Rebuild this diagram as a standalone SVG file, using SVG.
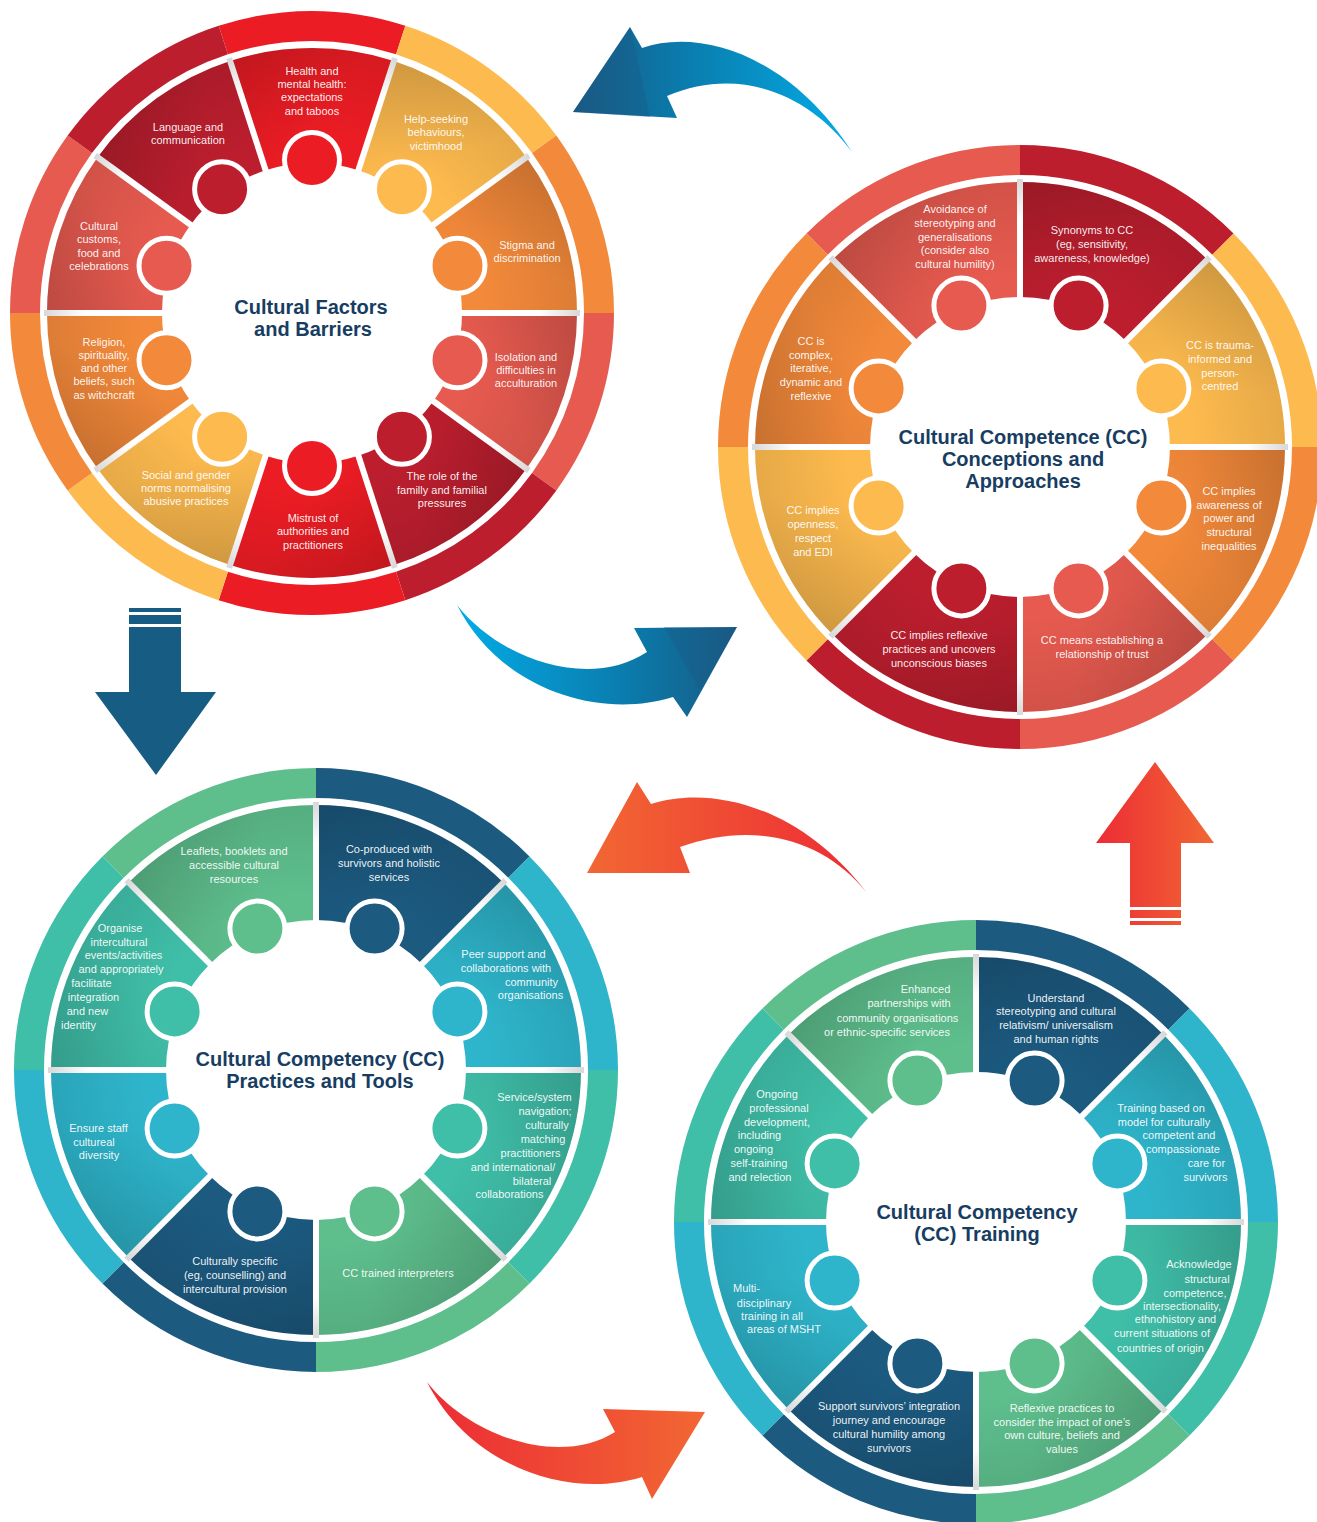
<svg xmlns="http://www.w3.org/2000/svg" width="1317" height="1522" viewBox="0 0 1317 1522">
<style>
.t{font-family:"Liberation Sans",Arial,sans-serif;font-size:11px;fill:#ffffff;fill-opacity:0.93;text-anchor:middle}
.ti{font-family:"Liberation Sans",Arial,sans-serif;font-size:20px;font-weight:bold;fill:#173D62;text-anchor:middle}
.dot{stroke:#ffffff;stroke-width:5}
.dv{stroke:url(#dvg);stroke-width:6}
</style>
<defs>
<path id="wd10" d="M142.66,-46.35 L252.03,-81.89 A265,265 0 0 1 252.03,81.89 L142.66,46.35 A150,150 0 0 0 142.66,-46.35 Z"/>
<path id="rg10" d="M258.69,-84.05 L287.22,-93.32 A302,302 0 0 1 287.22,93.32 L258.69,84.05 A272,272 0 0 0 258.69,-84.05 Z"/>
<path id="wd8" d="M138.58,-57.40 L244.83,-101.41 A265,265 0 0 1 244.83,101.41 L138.58,57.40 A150,150 0 0 0 138.58,-57.40 Z"/>
<path id="rg8" d="M251.30,-104.09 L279.01,-115.57 A302,302 0 0 1 279.01,115.57 L251.30,104.09 A272,272 0 0 0 251.30,-104.09 Z"/>
<radialGradient id="rad" gradientUnits="userSpaceOnUse" cx="0" cy="0" r="265">
<stop offset="0.65" stop-color="#000" stop-opacity="0"/>
<stop offset="1" stop-color="#000" stop-opacity="0.09"/>
</radialGradient>
<linearGradient id="side10" gradientUnits="userSpaceOnUse" x1="250" y1="-82" x2="190" y2="10">
<stop offset="0" stop-color="#000" stop-opacity="0.1"/>
<stop offset="1" stop-color="#000" stop-opacity="0"/>
</linearGradient>
<linearGradient id="side8" gradientUnits="userSpaceOnUse" x1="245" y1="-101" x2="185" y2="15">
<stop offset="0" stop-color="#000" stop-opacity="0.1"/>
<stop offset="1" stop-color="#000" stop-opacity="0"/>
</linearGradient>
<linearGradient id="dvg" gradientUnits="userSpaceOnUse" x1="150" y1="0" x2="268" y2="0">
<stop offset="0" stop-color="#ffffff"/>
<stop offset="0.65" stop-color="#ffffff"/>
<stop offset="1" stop-color="#d8d8d8"/>
</linearGradient>
<linearGradient id="gb1" gradientUnits="userSpaceOnUse" x1="573" y1="0" x2="852" y2="0">
<stop offset="0" stop-color="#1A5A84"/>
<stop offset="0.35" stop-color="#0B78A8"/>
<stop offset="1" stop-color="#03ABE6"/>
</linearGradient>
<linearGradient id="gb2" gradientUnits="userSpaceOnUse" x1="457" y1="0" x2="737" y2="0">
<stop offset="0" stop-color="#03ABE6"/>
<stop offset="0.65" stop-color="#0B78A8"/>
<stop offset="1" stop-color="#1A5A84"/>
</linearGradient>
<linearGradient id="gr1" gradientUnits="userSpaceOnUse" x1="587" y1="0" x2="867" y2="0">
<stop offset="0" stop-color="#F26733"/>
<stop offset="1" stop-color="#EC2C35"/>
</linearGradient>
<linearGradient id="gr2" gradientUnits="userSpaceOnUse" x1="427" y1="0" x2="705" y2="0">
<stop offset="0" stop-color="#EC2C35"/>
<stop offset="1" stop-color="#F26733"/>
</linearGradient>
<linearGradient id="gr3" gradientUnits="userSpaceOnUse" x1="1096" y1="0" x2="1214" y2="0">
<stop offset="0" stop-color="#EC2C35"/>
<stop offset="1" stop-color="#F26733"/>
</linearGradient>
</defs>
<rect width="1317" height="1522" fill="#ffffff"/>

<!-- ================= CONNECTORS ================= -->
<g id="connectors">
<g id="arrow-blue-top">
<path d="M642,48 C700,28 790,55 852,152 C810,95 740,65 667,96 L677,118 L573,112 L630,27 Z" fill="url(#gb1)"/>
<path d="M573,112 L630,27 L650,117 Z" fill="#1A5A84" fill-opacity="0.35"/>
</g>
<g id="arrow-blue-mid">
<path d="M457,605 C500,660 590,690 647,652 L634,628 L737,627 L687,717 L673,697 C600,720 500,690 457,605 Z" fill="url(#gb2)"/>
<path d="M664,627 L737,627 L700,690 Z" fill="#1A5A84" fill-opacity="0.35"/>
</g>
<g id="arrow-blue-down" fill="#175C83">
<rect x="129" y="608" width="52" height="4"/>
<rect x="129" y="615" width="52" height="9"/>
<path d="M129,627 L181,627 L181,692 L216,692 L156,775 L95,692 L129,692 Z"/>
</g>
<g id="arrow-red-mid">
<path d="M651,804 C710,785 800,805 867,893 C825,840 755,820 680,847 L690,873 L587,873 L637,782 Z" fill="url(#gr1)"/>
</g>
<g id="arrow-red-up" fill="url(#gr3)">
<path d="M1155,762 L1214,843 L1181,843 L1181,907 L1130,907 L1130,843 L1096,843 Z"/>
<rect x="1130" y="910" width="51" height="8"/>
<rect x="1130" y="921" width="51" height="4"/>
</g>
<g id="arrow-red-bottom">
<path d="M427,1382 C470,1437 560,1467 615,1432 L603,1409 L705,1412 L652,1499 L642,1477 C570,1500 470,1467 427,1382 Z" fill="url(#gr2)"/>
</g>
</g>

<!-- ================= WHEEL 1 ================= -->
<g id="wheel1">
<g id="w1-ring" transform="translate(312,313)">
<use href="#rg10" transform="rotate(-90)" fill="#EC1C24"/>
<use href="#rg10" transform="rotate(-54)" fill="#FDBA4E"/>
<use href="#rg10" transform="rotate(-18)" fill="#F3893A"/>
<use href="#rg10" transform="rotate(18)" fill="#E65A4F"/>
<use href="#rg10" transform="rotate(54)" fill="#BC1E2E"/>
<use href="#rg10" transform="rotate(90)" fill="#EC1C24"/>
<use href="#rg10" transform="rotate(126)" fill="#FDBA4E"/>
<use href="#rg10" transform="rotate(162)" fill="#F3893A"/>
<use href="#rg10" transform="rotate(198)" fill="#E65A4F"/>
<use href="#rg10" transform="rotate(234)" fill="#BC1E2E"/>
</g>
<g id="w1-health">
<g transform="translate(312,313) rotate(-90)"><use href="#wd10" fill="#EC1C24"/><use href="#wd10" fill="url(#rad)"/><use href="#wd10" fill="url(#side10)"/></g>
<text class="t"><tspan x="312" y="75">Health and</tspan><tspan x="312" y="88">mental health:</tspan><tspan x="312" y="101">expectations</tspan><tspan x="312" y="115">and taboos</tspan></text>
</g>
<g id="w1-help">
<g transform="translate(312,313) rotate(-54)"><use href="#wd10" fill="#FDBA4E"/><use href="#wd10" fill="url(#rad)"/><use href="#wd10" fill="url(#side10)"/></g>
<text class="t"><tspan x="436" y="123">Help-seeking</tspan><tspan x="436" y="136">behaviours,</tspan><tspan x="436" y="150">victimhood</tspan></text>
</g>
<g id="w1-stigma">
<g transform="translate(312,313) rotate(-18)"><use href="#wd10" fill="#F3893A"/><use href="#wd10" fill="url(#rad)"/><use href="#wd10" fill="url(#side10)"/></g>
<text class="t"><tspan x="527" y="249">Stigma and</tspan><tspan x="527" y="262">discrimination</tspan></text>
</g>
<g id="w1-isolation">
<g transform="translate(312,313) rotate(18)"><use href="#wd10" fill="#E65A4F"/><use href="#wd10" fill="url(#rad)"/><use href="#wd10" fill="url(#side10)"/></g>
<text class="t"><tspan x="526" y="361">Isolation and</tspan><tspan x="526" y="374">difficulties in</tspan><tspan x="526" y="387">acculturation</tspan></text>
</g>
<g id="w1-family">
<g transform="translate(312,313) rotate(54)"><use href="#wd10" fill="#BC1E2E"/><use href="#wd10" fill="url(#rad)"/><use href="#wd10" fill="url(#side10)"/></g>
<text class="t"><tspan x="442" y="480">The role of the</tspan><tspan x="442" y="494">familly and familial</tspan><tspan x="442" y="507">pressures</tspan></text>
</g>
<g id="w1-mistrust">
<g transform="translate(312,313) rotate(90)"><use href="#wd10" fill="#EC1C24"/><use href="#wd10" fill="url(#rad)"/><use href="#wd10" fill="url(#side10)"/></g>
<text class="t"><tspan x="313" y="522">Mistrust of</tspan><tspan x="313" y="535">authorities and</tspan><tspan x="313" y="549">practitioners</tspan></text>
</g>
<g id="w1-social">
<g transform="translate(312,313) rotate(126)"><use href="#wd10" fill="#FDBA4E"/><use href="#wd10" fill="url(#rad)"/><use href="#wd10" fill="url(#side10)"/></g>
<text class="t"><tspan x="186" y="479">Social and gender</tspan><tspan x="186" y="492">norms normalising</tspan><tspan x="186" y="505">abusive practices</tspan></text>
</g>
<g id="w1-religion">
<g transform="translate(312,313) rotate(162)"><use href="#wd10" fill="#F3893A"/><use href="#wd10" fill="url(#rad)"/><use href="#wd10" fill="url(#side10)"/></g>
<text class="t"><tspan x="104" y="346">Religion,</tspan><tspan x="104" y="359">spirituality,</tspan><tspan x="104" y="372">and other</tspan><tspan x="104" y="385">beliefs, such</tspan><tspan x="104" y="399">as witchcraft</tspan></text>
</g>
<g id="w1-customs">
<g transform="translate(312,313) rotate(198)"><use href="#wd10" fill="#E65A4F"/><use href="#wd10" fill="url(#rad)"/><use href="#wd10" fill="url(#side10)"/></g>
<text class="t"><tspan x="99" y="230">Cultural</tspan><tspan x="99" y="243">customs,</tspan><tspan x="99" y="257">food and</tspan><tspan x="99" y="270">celebrations</tspan></text>
</g>
<g id="w1-language">
<g transform="translate(312,313) rotate(234)"><use href="#wd10" fill="#BC1E2E"/><use href="#wd10" fill="url(#rad)"/><use href="#wd10" fill="url(#side10)"/></g>
<text class="t"><tspan x="188" y="131">Language and</tspan><tspan x="188" y="144">communication</tspan></text>
</g>
<g id="w1-dividers" transform="translate(312,313)">
<line class="dv" x1="148" y1="0" x2="268" y2="0" transform="rotate(-108)"/>
<line class="dv" x1="148" y1="0" x2="268" y2="0" transform="rotate(-72)"/>
<line class="dv" x1="148" y1="0" x2="268" y2="0" transform="rotate(-36)"/>
<line class="dv" x1="148" y1="0" x2="268" y2="0" transform="rotate(0)"/>
<line class="dv" x1="148" y1="0" x2="268" y2="0" transform="rotate(36)"/>
<line class="dv" x1="148" y1="0" x2="268" y2="0" transform="rotate(72)"/>
<line class="dv" x1="148" y1="0" x2="268" y2="0" transform="rotate(108)"/>
<line class="dv" x1="148" y1="0" x2="268" y2="0" transform="rotate(144)"/>
<line class="dv" x1="148" y1="0" x2="268" y2="0" transform="rotate(180)"/>
<line class="dv" x1="148" y1="0" x2="268" y2="0" transform="rotate(216)"/>
</g>
<g id="w1-dots">
<circle class="dot" cx="312" cy="160" r="27.5" fill="#EC1C24"/>
<circle class="dot" cx="401.9" cy="189.2" r="27.5" fill="#FDBA4E"/>
<circle class="dot" cx="457.5" cy="265.7" r="27.5" fill="#F3893A"/>
<circle class="dot" cx="457.5" cy="360.3" r="27.5" fill="#E65A4F"/>
<circle class="dot" cx="401.9" cy="436.8" r="27.5" fill="#BC1E2E"/>
<circle class="dot" cx="312" cy="466" r="27.5" fill="#EC1C24"/>
<circle class="dot" cx="222.1" cy="436.8" r="27.5" fill="#FDBA4E"/>
<circle class="dot" cx="166.5" cy="360.3" r="27.5" fill="#F3893A"/>
<circle class="dot" cx="166.5" cy="265.7" r="27.5" fill="#E65A4F"/>
<circle class="dot" cx="222.1" cy="189.2" r="27.5" fill="#BC1E2E"/>
</g>
<g id="w1-title">
<text class="ti"><tspan x="311" y="314">Cultural Factors</tspan><tspan x="313" y="336">and Barriers</tspan></text>
</g>
</g>

<!-- ================= WHEEL 2 ================= -->
<g id="wheel2">
<g id="w2-ring" transform="translate(1020,447)">
<use href="#rg8" transform="rotate(-112.5)" fill="#E65A4F"/>
<use href="#rg8" transform="rotate(-67.5)" fill="#BC1E2E"/>
<use href="#rg8" transform="rotate(-22.5)" fill="#FDBA4E"/>
<use href="#rg8" transform="rotate(22.5)" fill="#F3893A"/>
<use href="#rg8" transform="rotate(67.5)" fill="#E65A4F"/>
<use href="#rg8" transform="rotate(112.5)" fill="#BC1E2E"/>
<use href="#rg8" transform="rotate(157.5)" fill="#FDBA4E"/>
<use href="#rg8" transform="rotate(202.5)" fill="#F3893A"/>
</g>
<g id="w2-avoidance">
<g transform="translate(1020,447) rotate(-112.5)"><use href="#wd8" fill="#E65A4F"/><use href="#wd8" fill="url(#rad)"/><use href="#wd8" fill="url(#side8)"/></g>
<text class="t"><tspan x="955" y="213">Avoidance of</tspan><tspan x="955" y="227">stereotyping and</tspan><tspan x="955" y="241">generalisations</tspan><tspan x="955" y="254">(consider also</tspan><tspan x="955" y="268">cultural humility)</tspan></text>
</g>
<g id="w2-synonyms">
<g transform="translate(1020,447) rotate(-67.5)"><use href="#wd8" fill="#BC1E2E"/><use href="#wd8" fill="url(#rad)"/><use href="#wd8" fill="url(#side8)"/></g>
<text class="t"><tspan x="1092" y="234">Synonyms to CC</tspan><tspan x="1092" y="248">(eg, sensitivity,</tspan><tspan x="1092" y="262">awareness, knowledge)</tspan></text>
</g>
<g id="w2-trauma">
<g transform="translate(1020,447) rotate(-22.5)"><use href="#wd8" fill="#FDBA4E"/><use href="#wd8" fill="url(#rad)"/><use href="#wd8" fill="url(#side8)"/></g>
<text class="t"><tspan x="1220" y="349">CC is trauma-</tspan><tspan x="1220" y="363">informed and</tspan><tspan x="1220" y="377">person-</tspan><tspan x="1220" y="390">centred</tspan></text>
</g>
<g id="w2-awareness">
<g transform="translate(1020,447) rotate(22.5)"><use href="#wd8" fill="#F3893A"/><use href="#wd8" fill="url(#rad)"/><use href="#wd8" fill="url(#side8)"/></g>
<text class="t"><tspan x="1229" y="495">CC implies</tspan><tspan x="1229" y="509">awareness of</tspan><tspan x="1229" y="522">power and</tspan><tspan x="1229" y="536">structural</tspan><tspan x="1229" y="550">inequalities</tspan></text>
</g>
<g id="w2-trust">
<g transform="translate(1020,447) rotate(67.5)"><use href="#wd8" fill="#E65A4F"/><use href="#wd8" fill="url(#rad)"/><use href="#wd8" fill="url(#side8)"/></g>
<text class="t"><tspan x="1102" y="644">CC means establishing a</tspan><tspan x="1102" y="658">relationship of trust</tspan></text>
</g>
<g id="w2-reflexive">
<g transform="translate(1020,447) rotate(112.5)"><use href="#wd8" fill="#BC1E2E"/><use href="#wd8" fill="url(#rad)"/><use href="#wd8" fill="url(#side8)"/></g>
<text class="t"><tspan x="939" y="639">CC implies reflexive</tspan><tspan x="939" y="653">practices and uncovers</tspan><tspan x="939" y="667">unconscious biases</tspan></text>
</g>
<g id="w2-openness">
<g transform="translate(1020,447) rotate(157.5)"><use href="#wd8" fill="#FDBA4E"/><use href="#wd8" fill="url(#rad)"/><use href="#wd8" fill="url(#side8)"/></g>
<text class="t"><tspan x="813" y="514">CC implies</tspan><tspan x="813" y="528">openness,</tspan><tspan x="813" y="542">respect</tspan><tspan x="813" y="556">and EDI</tspan></text>
</g>
<g id="w2-complex">
<g transform="translate(1020,447) rotate(202.5)"><use href="#wd8" fill="#F3893A"/><use href="#wd8" fill="url(#rad)"/><use href="#wd8" fill="url(#side8)"/></g>
<text class="t"><tspan x="811" y="345">CC is</tspan><tspan x="811" y="359">complex,</tspan><tspan x="811" y="372">iterative,</tspan><tspan x="811" y="386">dynamic and</tspan><tspan x="811" y="400">reflexive</tspan></text>
</g>
<g id="w2-dividers" transform="translate(1020,447)">
<line class="dv" x1="148" y1="0" x2="268" y2="0" transform="rotate(-135)"/>
<line class="dv" x1="148" y1="0" x2="268" y2="0" transform="rotate(-90)"/>
<line class="dv" x1="148" y1="0" x2="268" y2="0" transform="rotate(-45)"/>
<line class="dv" x1="148" y1="0" x2="268" y2="0" transform="rotate(0)"/>
<line class="dv" x1="148" y1="0" x2="268" y2="0" transform="rotate(45)"/>
<line class="dv" x1="148" y1="0" x2="268" y2="0" transform="rotate(90)"/>
<line class="dv" x1="148" y1="0" x2="268" y2="0" transform="rotate(135)"/>
<line class="dv" x1="148" y1="0" x2="268" y2="0" transform="rotate(180)"/>
</g>
<g id="w2-dots">
<circle class="dot" cx="961.4" cy="305.6" r="27.5" fill="#E65A4F"/>
<circle class="dot" cx="1078.6" cy="305.6" r="27.5" fill="#BC1E2E"/>
<circle class="dot" cx="1161.4" cy="388.4" r="27.5" fill="#FDBA4E"/>
<circle class="dot" cx="1161.4" cy="505.6" r="27.5" fill="#F3893A"/>
<circle class="dot" cx="1078.6" cy="588.4" r="27.5" fill="#E65A4F"/>
<circle class="dot" cx="961.4" cy="588.4" r="27.5" fill="#BC1E2E"/>
<circle class="dot" cx="878.6" cy="505.6" r="27.5" fill="#FDBA4E"/>
<circle class="dot" cx="878.6" cy="388.4" r="27.5" fill="#F3893A"/>
</g>
<g id="w2-title">
<text class="ti"><tspan x="1023" y="444">Cultural Competence (CC)</tspan><tspan x="1023" y="466">Conceptions and</tspan><tspan x="1023" y="488">Approaches</tspan></text>
</g>
</g>

<!-- ================= WHEEL 3 ================= -->
<g id="wheel3">
<g id="w3-ring" transform="translate(316,1070)">
<use href="#rg8" transform="rotate(-112.5)" fill="#5EBF8D"/>
<use href="#rg8" transform="rotate(-67.5)" fill="#1C5A80"/>
<use href="#rg8" transform="rotate(-22.5)" fill="#2EB5CB"/>
<use href="#rg8" transform="rotate(22.5)" fill="#3FBEA8"/>
<use href="#rg8" transform="rotate(67.5)" fill="#5EBF8D"/>
<use href="#rg8" transform="rotate(112.5)" fill="#1C5A80"/>
<use href="#rg8" transform="rotate(157.5)" fill="#2EB5CB"/>
<use href="#rg8" transform="rotate(202.5)" fill="#3FBEA8"/>
</g>
<g id="w3-leaflets">
<g transform="translate(316,1070) rotate(-112.5)"><use href="#wd8" fill="#5EBF8D"/><use href="#wd8" fill="url(#rad)"/><use href="#wd8" fill="url(#side8)"/></g>
<text class="t"><tspan x="234" y="855">Leaflets, booklets and</tspan><tspan x="234" y="869">accessible cultural</tspan><tspan x="234" y="883">resources</tspan></text>
</g>
<g id="w3-coproduced">
<g transform="translate(316,1070) rotate(-67.5)"><use href="#wd8" fill="#1C5A80"/><use href="#wd8" fill="url(#rad)"/><use href="#wd8" fill="url(#side8)"/></g>
<text class="t"><tspan x="389" y="853">Co-produced with</tspan><tspan x="389" y="867">survivors and holistic</tspan><tspan x="389" y="881">services</tspan></text>
</g>
<g id="w3-peer">
<g transform="translate(316,1070) rotate(-22.5)"><use href="#wd8" fill="#2EB5CB"/><use href="#wd8" fill="url(#rad)"/><use href="#wd8" fill="url(#side8)"/></g>
<text class="t"><tspan x="503.5" y="958">Peer support and</tspan><tspan x="506" y="972">collaborations with</tspan><tspan x="531.5" y="986">community</tspan><tspan x="530.5" y="999">organisations</tspan></text>
</g>
<g id="w3-service">
<g transform="translate(316,1070) rotate(22.5)"><use href="#wd8" fill="#3FBEA8"/><use href="#wd8" fill="url(#rad)"/><use href="#wd8" fill="url(#side8)"/></g>
<text class="t"><tspan x="534.5" y="1101">Service/system</tspan><tspan x="545" y="1115">navigation;</tspan><tspan x="547" y="1129">culturally</tspan><tspan x="543" y="1143">matching</tspan><tspan x="530.5" y="1157">practitioners</tspan><tspan x="513" y="1171">and international/</tspan><tspan x="532" y="1185">bilateral</tspan><tspan x="509.5" y="1198">collaborations</tspan></text>
</g>
<g id="w3-interpreters">
<g transform="translate(316,1070) rotate(67.5)"><use href="#wd8" fill="#5EBF8D"/><use href="#wd8" fill="url(#rad)"/><use href="#wd8" fill="url(#side8)"/></g>
<text class="t"><tspan x="398" y="1277">CC trained interpreters</tspan></text>
</g>
<g id="w3-specific">
<g transform="translate(316,1070) rotate(112.5)"><use href="#wd8" fill="#1C5A80"/><use href="#wd8" fill="url(#rad)"/><use href="#wd8" fill="url(#side8)"/></g>
<text class="t"><tspan x="235" y="1265">Culturally specific</tspan><tspan x="235" y="1279">(eg, counselling) and</tspan><tspan x="235" y="1293">intercultural provision</tspan></text>
</g>
<g id="w3-staff">
<g transform="translate(316,1070) rotate(157.5)"><use href="#wd8" fill="#2EB5CB"/><use href="#wd8" fill="url(#rad)"/><use href="#wd8" fill="url(#side8)"/></g>
<text class="t"><tspan x="98.5" y="1132">Ensure staff</tspan><tspan x="94" y="1146">cultureal</tspan><tspan x="99" y="1159">diversity</tspan></text>
</g>
<g id="w3-organise">
<g transform="translate(316,1070) rotate(202.5)"><use href="#wd8" fill="#3FBEA8"/><use href="#wd8" fill="url(#rad)"/><use href="#wd8" fill="url(#side8)"/></g>
<text class="t"><tspan x="120" y="932">Organise</tspan><tspan x="119" y="946">intercultural</tspan><tspan x="123.5" y="959">events/activities</tspan><tspan x="121" y="973">and appropriately</tspan><tspan x="91.5" y="987">facilitate</tspan><tspan x="93.5" y="1001">integration</tspan><tspan x="87.5" y="1015">and new</tspan><tspan x="78.5" y="1029">identity</tspan></text>
</g>
<g id="w3-dividers" transform="translate(316,1070)">
<line class="dv" x1="148" y1="0" x2="268" y2="0" transform="rotate(-135)"/>
<line class="dv" x1="148" y1="0" x2="268" y2="0" transform="rotate(-90)"/>
<line class="dv" x1="148" y1="0" x2="268" y2="0" transform="rotate(-45)"/>
<line class="dv" x1="148" y1="0" x2="268" y2="0" transform="rotate(0)"/>
<line class="dv" x1="148" y1="0" x2="268" y2="0" transform="rotate(45)"/>
<line class="dv" x1="148" y1="0" x2="268" y2="0" transform="rotate(90)"/>
<line class="dv" x1="148" y1="0" x2="268" y2="0" transform="rotate(135)"/>
<line class="dv" x1="148" y1="0" x2="268" y2="0" transform="rotate(180)"/>
</g>
<g id="w3-dots">
<circle class="dot" cx="257.4" cy="928.6" r="27.5" fill="#5EBF8D"/>
<circle class="dot" cx="374.6" cy="928.6" r="27.5" fill="#1C5A80"/>
<circle class="dot" cx="457.4" cy="1011.4" r="27.5" fill="#2EB5CB"/>
<circle class="dot" cx="457.4" cy="1128.6" r="27.5" fill="#3FBEA8"/>
<circle class="dot" cx="374.6" cy="1211.4" r="27.5" fill="#5EBF8D"/>
<circle class="dot" cx="257.4" cy="1211.4" r="27.5" fill="#1C5A80"/>
<circle class="dot" cx="174.6" cy="1128.6" r="27.5" fill="#2EB5CB"/>
<circle class="dot" cx="174.6" cy="1011.4" r="27.5" fill="#3FBEA8"/>
</g>
<g id="w3-title">
<text class="ti"><tspan x="320" y="1066">Cultural Competency (CC)</tspan><tspan x="320" y="1088">Practices and Tools</tspan></text>
</g>
</g>

<!-- ================= WHEEL 4 ================= -->
<g id="wheel4">
<g id="w4-ring" transform="translate(976,1222)">
<use href="#rg8" transform="rotate(-112.5)" fill="#5EBF8D"/>
<use href="#rg8" transform="rotate(-67.5)" fill="#1C5A80"/>
<use href="#rg8" transform="rotate(-22.5)" fill="#2EB5CB"/>
<use href="#rg8" transform="rotate(22.5)" fill="#3FBEA8"/>
<use href="#rg8" transform="rotate(67.5)" fill="#5EBF8D"/>
<use href="#rg8" transform="rotate(112.5)" fill="#1C5A80"/>
<use href="#rg8" transform="rotate(157.5)" fill="#2EB5CB"/>
<use href="#rg8" transform="rotate(202.5)" fill="#3FBEA8"/>
</g>
<g id="w4-partnerships">
<g transform="translate(976,1222) rotate(-112.5)"><use href="#wd8" fill="#5EBF8D"/><use href="#wd8" fill="url(#rad)"/><use href="#wd8" fill="url(#side8)"/></g>
<text class="t"><tspan x="925.5" y="993">Enhanced</tspan><tspan x="909" y="1007">partnerships with</tspan><tspan x="897.5" y="1022">community organisations</tspan><tspan x="887" y="1036">or ethnic-specific services</tspan></text>
</g>
<g id="w4-understand">
<g transform="translate(976,1222) rotate(-67.5)"><use href="#wd8" fill="#1C5A80"/><use href="#wd8" fill="url(#rad)"/><use href="#wd8" fill="url(#side8)"/></g>
<text class="t"><tspan x="1056" y="1002">Understand</tspan><tspan x="1056" y="1015">stereotyping and cultural</tspan><tspan x="1056" y="1029">relativism/ universalism</tspan><tspan x="1056" y="1043">and human rights</tspan></text>
</g>
<g id="w4-training">
<g transform="translate(976,1222) rotate(-22.5)"><use href="#wd8" fill="#2EB5CB"/><use href="#wd8" fill="url(#rad)"/><use href="#wd8" fill="url(#side8)"/></g>
<text class="t"><tspan x="1161" y="1112">Training based on</tspan><tspan x="1164" y="1126">model for culturally</tspan><tspan x="1179" y="1139">competent and</tspan><tspan x="1183" y="1153">compassionate</tspan><tspan x="1206.5" y="1167">care for</tspan><tspan x="1205.5" y="1181">survivors</tspan></text>
</g>
<g id="w4-acknowledge">
<g transform="translate(976,1222) rotate(22.5)"><use href="#wd8" fill="#3FBEA8"/><use href="#wd8" fill="url(#rad)"/><use href="#wd8" fill="url(#side8)"/></g>
<text class="t"><tspan x="1199" y="1268">Acknowledge</tspan><tspan x="1207" y="1283">structural</tspan><tspan x="1195" y="1297">competence,</tspan><tspan x="1182" y="1310">intersectionality,</tspan><tspan x="1175.5" y="1323">ethnohistory and</tspan><tspan x="1162" y="1337">current situations of</tspan><tspan x="1160.5" y="1352">countries of origin</tspan></text>
</g>
<g id="w4-reflexive">
<g transform="translate(976,1222) rotate(67.5)"><use href="#wd8" fill="#5EBF8D"/><use href="#wd8" fill="url(#rad)"/><use href="#wd8" fill="url(#side8)"/></g>
<text class="t"><tspan x="1062" y="1412">Reflexive practices to</tspan><tspan x="1062" y="1426">consider the impact of one’s</tspan><tspan x="1062" y="1439">own culture, beliefs and</tspan><tspan x="1062" y="1453">values</tspan></text>
</g>
<g id="w4-support">
<g transform="translate(976,1222) rotate(112.5)"><use href="#wd8" fill="#1C5A80"/><use href="#wd8" fill="url(#rad)"/><use href="#wd8" fill="url(#side8)"/></g>
<text class="t"><tspan x="889" y="1410">Support survivors’ integration</tspan><tspan x="889" y="1424">journey and encourage</tspan><tspan x="889" y="1438">cultural humility among</tspan><tspan x="889" y="1452">survivors</tspan></text>
</g>
<g id="w4-multi">
<g transform="translate(976,1222) rotate(157.5)"><use href="#wd8" fill="#2EB5CB"/><use href="#wd8" fill="url(#rad)"/><use href="#wd8" fill="url(#side8)"/></g>
<text class="t"><tspan x="746.5" y="1292">Multi-</tspan><tspan x="764" y="1307">disciplinary</tspan><tspan x="772" y="1320">training in all</tspan><tspan x="784" y="1333">areas of MSHT</tspan></text>
</g>
<g id="w4-ongoing">
<g transform="translate(976,1222) rotate(202.5)"><use href="#wd8" fill="#3FBEA8"/><use href="#wd8" fill="url(#rad)"/><use href="#wd8" fill="url(#side8)"/></g>
<text class="t"><tspan x="777" y="1098">Ongoing</tspan><tspan x="779" y="1112">professional</tspan><tspan x="777" y="1126">development,</tspan><tspan x="759.5" y="1139">including</tspan><tspan x="753.5" y="1153">ongoing</tspan><tspan x="759" y="1167">self-training</tspan><tspan x="760" y="1181">and relection</tspan></text>
</g>
<g id="w4-dividers" transform="translate(976,1222)">
<line class="dv" x1="148" y1="0" x2="268" y2="0" transform="rotate(-135)"/>
<line class="dv" x1="148" y1="0" x2="268" y2="0" transform="rotate(-90)"/>
<line class="dv" x1="148" y1="0" x2="268" y2="0" transform="rotate(-45)"/>
<line class="dv" x1="148" y1="0" x2="268" y2="0" transform="rotate(0)"/>
<line class="dv" x1="148" y1="0" x2="268" y2="0" transform="rotate(45)"/>
<line class="dv" x1="148" y1="0" x2="268" y2="0" transform="rotate(90)"/>
<line class="dv" x1="148" y1="0" x2="268" y2="0" transform="rotate(135)"/>
<line class="dv" x1="148" y1="0" x2="268" y2="0" transform="rotate(180)"/>
</g>
<g id="w4-dots">
<circle class="dot" cx="917.4" cy="1080.6" r="27.5" fill="#5EBF8D"/>
<circle class="dot" cx="1034.6" cy="1080.6" r="27.5" fill="#1C5A80"/>
<circle class="dot" cx="1117.4" cy="1163.4" r="27.5" fill="#2EB5CB"/>
<circle class="dot" cx="1117.4" cy="1280.6" r="27.5" fill="#3FBEA8"/>
<circle class="dot" cx="1034.6" cy="1363.4" r="27.5" fill="#5EBF8D"/>
<circle class="dot" cx="917.4" cy="1363.4" r="27.5" fill="#1C5A80"/>
<circle class="dot" cx="834.6" cy="1280.6" r="27.5" fill="#2EB5CB"/>
<circle class="dot" cx="834.6" cy="1163.4" r="27.5" fill="#3FBEA8"/>
</g>
<g id="w4-title">
<text class="ti"><tspan x="977" y="1219">Cultural Competency</tspan><tspan x="977" y="1241">(CC) Training</tspan></text>
</g>
</g>
</svg>
